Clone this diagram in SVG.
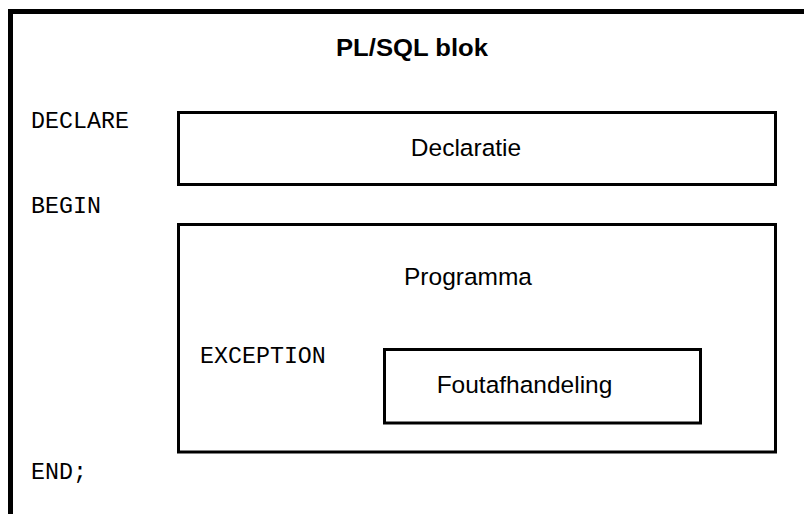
<svg xmlns="http://www.w3.org/2000/svg" width="804" height="514" viewBox="0 0 804 514">
<style>
.frame{fill:none;stroke:#000;stroke-width:5}
.box{fill:none;stroke:#000;stroke-width:3}
.sans{font-family:"Liberation Sans",Arial,sans-serif;font-size:24.5px;fill:#000;text-anchor:middle}
.title{font-family:"Liberation Sans",Arial,sans-serif;font-size:24px;font-weight:bold;fill:#000;text-anchor:middle}
.mono{font-family:"Liberation Mono","Courier New",monospace;font-size:23.3px;fill:#000}
</style>
<rect width="804" height="514" fill="#fff"/>
<g id="frame">
<polyline class="frame" points="10.5,514 10.5,11.5 804,11.5"/>
<text class="title" x="412" y="56" textLength="152" lengthAdjust="spacingAndGlyphs">PL/SQL blok</text>
</g>
<g id="keywords">
<text class="mono" x="31" y="128">DECLARE</text>
<text class="mono" x="31" y="213">BEGIN</text>
<text class="mono" x="31" y="479">END;</text>
</g>
<g id="declaratie">
<rect class="box" x="178.5" y="112.5" width="597" height="72"/>
<text class="sans" x="466" y="156">Declaratie</text>
</g>
<g id="programma">
<rect class="box" x="178.5" y="224.5" width="597" height="227.5"/>
<text class="sans" x="468" y="285">Programma</text>
<text class="mono" x="200" y="363">EXCEPTION</text>
</g>
<g id="foutafhandeling">
<rect class="box" x="384.5" y="349.5" width="316" height="73.5"/>
<text class="sans" x="524.5" y="393">Foutafhandeling</text>
</g>
<g id="connectors"></g>
</svg>
